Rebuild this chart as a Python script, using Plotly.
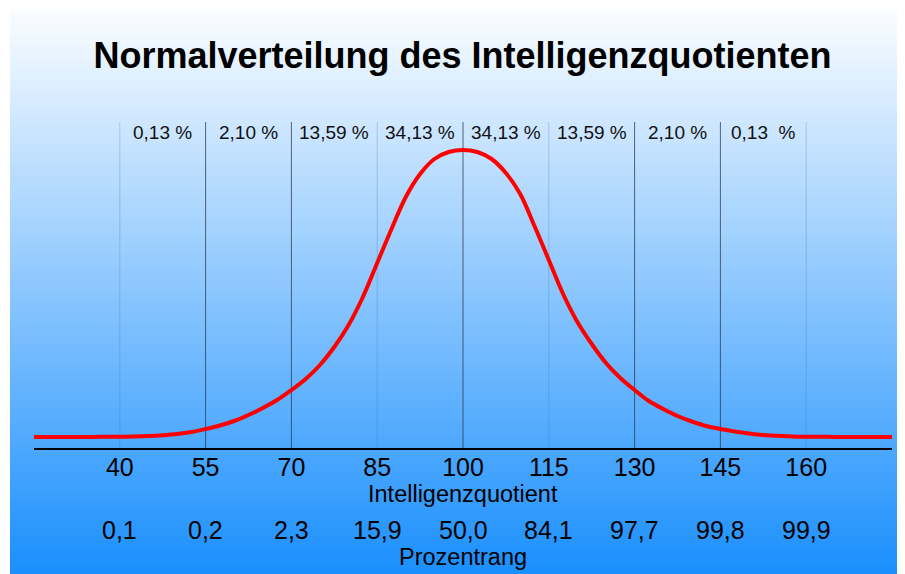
import plotly.graph_objects as go

# ---------------- data (curve, height above baseline) ----------------
iq_values = [25, 30, 35, 40, 42.5, 45, 47.5, 50, 52.5, 55, 57.5, 60, 62.5, 65, 67.5, 70, 72.5, 75,
             77.5, 80, 82.5, 85, 87.5, 90, 92.5, 95, 97.5, 100, 102.5, 105, 107.5, 110, 112.5, 115,
             117.5, 120, 122.5, 125, 127.5, 130, 132.5, 135, 137.5, 140, 142.5, 145, 147.5, 150,
             152.5, 155, 157.5, 160, 165, 170, 175]
curve_height = [0, 0, 0.1, 0.3, 0.5, 1, 1.8, 3, 5, 8, 11.5, 16, 22, 29, 37, 47, 58, 72,
                90, 112, 140, 174, 208, 240, 263, 278, 285, 287, 285, 278, 264, 243, 211, 177,
                143, 115, 93, 74, 59, 47, 36, 28, 21, 15.5, 11, 8, 5.5, 3.5,
                2, 1.2, 0.6, 0.3, 0.1, 0, 0]

tick_values = [40, 55, 70, 85, 100, 115, 130, 145, 160]
tick_labels = ["40", "55", "70", "85", "100", "115", "130", "145", "160"]
percentile_labels = ["0,1", "0,2", "2,3", "15,9", "50,0", "84,1", "97,7", "99,8", "99,9"]
strong_lines = [55, 70, 100, 130, 145]
faint_lines = [40, 85, 115, 160]

band_centers = [47.5, 62.5, 77.5, 92.5, 107.5, 122.5, 137.5, 152.5]
band_labels = ["0,13 %", "2,10 %", "13,59 %", "34,13 %", "34,13 %", "13,59 %", "2,10 %", "0,13  %"]

title_text = "Normalverteilung des Intelligenzquotienten"
xaxis_label = "Intelligenzquotient"
rank_label = "Prozentrang"

# ---------------- layout geometry ----------------
# The page body has an 8px margin, so the figure is offset by 8px; geometry
# below is given in window pixels and converted to figure pixels.
OFF = 8
WIN_W, WIN_H = 905, 574
W, H = WIN_W - OFF, WIN_H - OFF
PLOT_L, PLOT_R, PLOT_T, PLOT_B = 34, 892, 122, 448   # window pixels
L, R = PLOT_L - OFF, WIN_W - PLOT_R
T, B = PLOT_T - OFF, WIN_H - PLOT_B
plot_h = PLOT_B - PLOT_T
plot_w = PLOT_R - PLOT_L


def py_to_paper(py):   # window pixel y -> paper coordinate
    return (PLOT_B - py) / plot_h


def px_to_paper(px):   # window pixel x -> paper coordinate
    return (px - PLOT_L) / plot_w


FONT = "Liberation Sans, Arial, Helvetica, sans-serif"

fig = go.Figure()

fig.add_trace(go.Scatter(
    x=iq_values, y=curve_height, mode="lines",
    line=dict(color="#ff0000", width=4, shape="spline", smoothing=1.0),
    hoverinfo="skip", showlegend=False,
))

shapes = []
# background gradient (white -> blue), drawn as thin paper stripes
top_rgb = (255, 255, 255)
bot_rgb = (26, 143, 253)
step = 2
for py in range(OFF, WIN_H, step):
    f = (py + step / 2) / WIN_H
    c = tuple(round(top_rgb[i] + (bot_rgb[i] - top_rgb[i]) * f) for i in range(3))
    shapes.append(dict(
        type="rect", xref="paper", yref="paper", layer="below",
        x0=px_to_paper(10), x1=px_to_paper(WIN_W + 4),
        y0=py_to_paper(py + step + 0.5), y1=py_to_paper(py),
        line=dict(width=0), fillcolor="rgb(%d,%d,%d)" % c,
    ))

for v in strong_lines:
    shapes.append(dict(type="line", xref="x", yref="paper", x0=v, x1=v, y0=0, y1=1,
                       line=dict(color="rgba(40,55,75,0.75)", width=1), layer="below"))
for v in faint_lines:
    shapes.append(dict(type="line", xref="x", yref="paper", x0=v, x1=v, y0=0, y1=1,
                       line=dict(color="rgba(70,110,160,0.28)", width=1), layer="below"))

annotations = []
for xc, t in zip(band_centers, band_labels):
    annotations.append(dict(x=xc, y=py_to_paper(132), xref="x", yref="paper", text=t,
                            showarrow=False, xanchor="center", yanchor="middle",
                            font=dict(family=FONT, size=19, color="#111111")))
for xv, t in zip(tick_values, percentile_labels):
    annotations.append(dict(x=xv, y=py_to_paper(530), xref="x", yref="paper", text=t,
                            showarrow=False, xanchor="center", yanchor="middle",
                            font=dict(family=FONT, size=25, color="#000000")))
annotations.append(dict(x=100, y=py_to_paper(494), xref="x", yref="paper", text=xaxis_label,
                        showarrow=False, xanchor="center", yanchor="middle",
                        font=dict(family=FONT, size=23.5, color="#000000")))
annotations.append(dict(x=100, y=py_to_paper(557), xref="x", yref="paper", text=rank_label,
                        showarrow=False, xanchor="center", yanchor="middle",
                        font=dict(family=FONT, size=23.5, color="#000000")))

xaxis = dict(range=[25, 175], tickvals=tick_values, ticktext=tick_labels,
             showgrid=False, zeroline=False, showline=True, linecolor="#000000",
             linewidth=2, ticks="",
             tickfont=dict(family=FONT, size=25, color="#000000"), fixedrange=True)

fig.update_layout(
    width=W, height=H, autosize=False,
    margin=dict(l=L, r=R, t=T, b=B, pad=0),
    paper_bgcolor="white", plot_bgcolor="rgba(0,0,0,0)",
    title=dict(text=title_text, x=px_to_paper(462.5), xref="paper", xanchor="center",
               y=1 - (55 - OFF) / H, yref="container", yanchor="middle",
               font=dict(family=FONT, size=36, color="#000000", weight="bold")),
    shapes=shapes, annotations=annotations, showlegend=False,
    xaxis=xaxis,
    yaxis=dict(range=[-11, 315], visible=False, showgrid=False, zeroline=False, fixedrange=True),
)
try:
    fig.update_xaxes(ticklabelstandoff=-4)
except ValueError:
    fig.update_xaxes(ticklabelstandoff=0)

fig.write_html("out.html")
